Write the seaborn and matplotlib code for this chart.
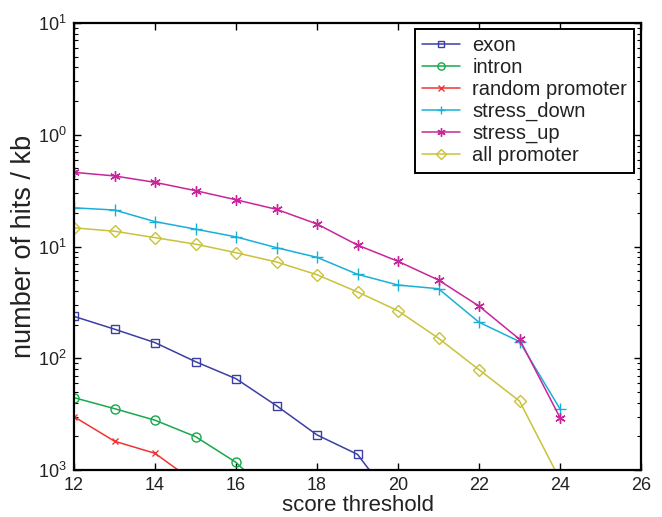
import numpy as np
import pandas as pd
import matplotlib
matplotlib.use("Agg")
import matplotlib.pyplot as plt
import matplotlib.ticker as mticker
import seaborn as sns

# ---- data ----
x_exon = [12, 13, 14, 15, 16, 17, 18, 19, 20]
exon = [0.0237, 0.0182, 0.0138, 0.00932, 0.00656, 0.00376, 0.00206, 0.00138, 0.00046]

x_intron = [12, 13, 14, 15, 16, 17]
intron = [0.00444, 0.00354, 0.00279, 0.00199, 0.00117, 0.00053]

x_random = [12, 13, 14, 15]
random_promoter = [0.0030, 0.00181, 0.00141, 0.00077]

x_down = [12, 13, 14, 15, 16, 17, 18, 19, 20, 21, 22, 23, 24]
stress_down = [0.222, 0.212, 0.167, 0.143, 0.122, 0.0976, 0.0800, 0.0564,
               0.0452, 0.0419, 0.0210, 0.0141, 0.00352]

x_up = [12, 13, 14, 15, 16, 17, 18, 19, 20, 21, 22, 23, 24]
stress_up = [0.461, 0.428, 0.375, 0.316, 0.262, 0.215, 0.159, 0.103,
             0.0737, 0.0501, 0.0293, 0.0148, 0.00294]

x_all = [12, 13, 14, 15, 16, 17, 18, 19, 20, 21, 22, 23, 24]
all_promoter = [0.147, 0.137, 0.120, 0.105, 0.088, 0.0727, 0.0559, 0.0392,
                0.0266, 0.0151, 0.0079, 0.00414, 0.00082]

series_names = ["exon", "intron", "random promoter", "stress_down", "stress_up", "all promoter"]
series_x = [x_exon, x_intron, x_random, x_down, x_up, x_all]
series_y = [exon, intron, random_promoter, stress_down, stress_up, all_promoter]

x_ticks = [12, 14, 16, 18, 20, 22, 24, 26]
y_ticks = [1e1, 1e0, 1e-1, 1e-2, 1e-3]
y_tick_labels = ["$10^{1}$", "$10^{0}$", "$10^{1}$", "$10^{2}$", "$10^{3}$"]

colors = ["#3b3fa3", "#17a84b", "#ee3535", "#19b0d8", "#c8259b", "#c9c23a"]
markers = ["s", "o", "x", "+", (6, 2, 0), "D"]
msizes = [5.5, 6.5, 5, 8, 7.5, 6]

rows = []
for name, xs, ys in zip(series_names, series_x, series_y):
    for xv, yv in zip(xs, ys):
        rows.append({"threshold": xv, "hits": yv, "series": name})
df = pd.DataFrame(rows)

sns.set_theme(style="ticks")
plt.rcParams["font.family"] = ["Liberation Sans", "DejaVu Sans"]
plt.rcParams["mathtext.fontset"] = "custom"
plt.rcParams["mathtext.rm"] = "Liberation Sans"
plt.rcParams["mathtext.it"] = "Liberation Sans:italic"

fig = plt.figure(figsize=(6.62, 5.17), dpi=100)
ax = fig.add_axes([74 / 662, 1 - 470 / 517, (641 - 74) / 662, (470 - 23) / 517])

for name, c, m, ms in zip(series_names, colors, markers, msizes):
    sub = df[df["series"] == name]
    hollow = m in ("s", "o", "D")
    sns.lineplot(data=sub, x="threshold", y="hits", ax=ax, color=c, lw=1.1,
                 marker=m, markersize=ms,
                 markerfacecolor="none" if hollow else c,
                 markeredgecolor=c, markeredgewidth=1.0,
                 label=name, estimator=None, sort=False)

ax.set_yscale("log")
ax.set_xlim(12, 26)
ax.set_ylim(1e-3, 1e1)
ax.set_xticks(x_ticks)
ax.set_xticklabels([str(t) for t in x_ticks])
ax.yaxis.set_major_locator(mticker.FixedLocator(y_ticks))
ax.yaxis.set_major_formatter(mticker.FixedFormatter(y_tick_labels))
ax.yaxis.set_minor_locator(mticker.LogLocator(base=10, subs=np.arange(2, 10)))
ax.yaxis.set_minor_formatter(mticker.NullFormatter())

ax.tick_params(axis="both", which="both", direction="in", top=True, right=True,
               colors="black", labelcolor="#222222")
ax.tick_params(axis="both", which="major", length=5, width=1.0, labelsize=13, pad=5)
ax.tick_params(axis="y", which="minor", length=3, width=0.8)
for s in ax.spines.values():
    s.set_linewidth(1.6)
    s.set_color("black")

ax.set_xlabel("score threshold", fontsize=16, color="#222222", labelpad=1)
ax.set_ylabel("number of hits / kb", fontsize=19.5, color="#222222", labelpad=1)

leg = ax.legend(loc="upper right", bbox_to_anchor=(0.988, 0.987), borderaxespad=0,
                fontsize=14.5, frameon=True, fancybox=False, framealpha=1,
                edgecolor="black", handlelength=1.9, handletextpad=0.6,
                labelspacing=0.15, borderpad=0.35, markerscale=0.8)
leg.get_frame().set_linewidth(1.4)
for t in leg.get_texts():
    t.set_color("#222222")

fig.savefig("out.png", dpi=100)
